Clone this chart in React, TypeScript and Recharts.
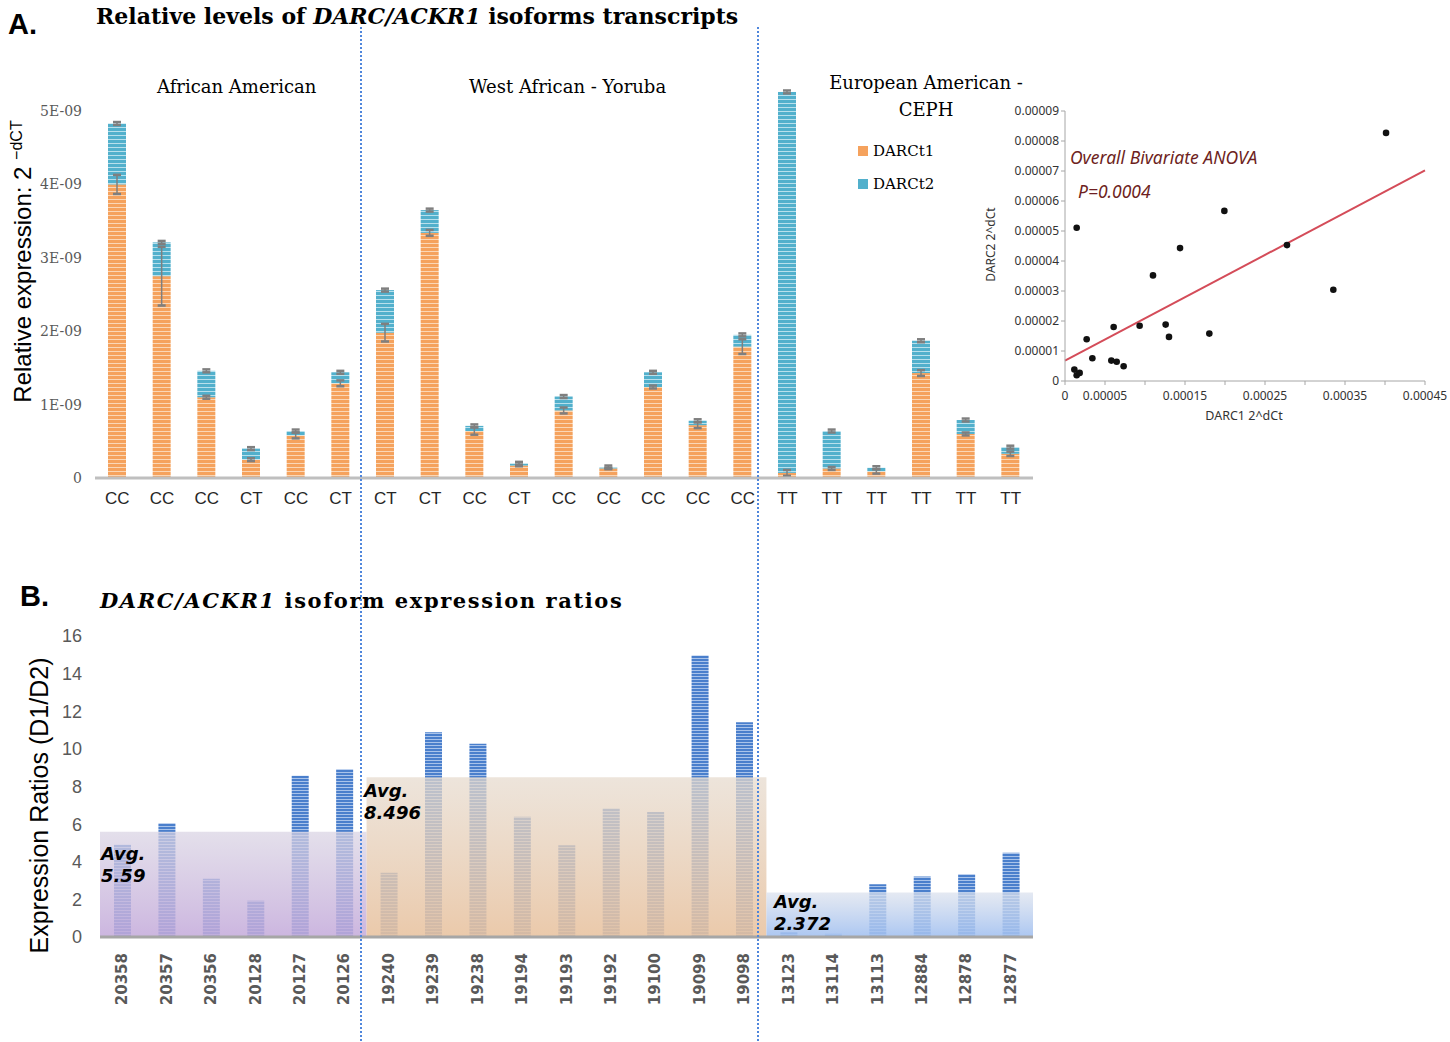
import React from "react";
import {
  Bar,
  BarChart,
  ReferenceArea,
  ReferenceLine,
  Scatter,
  ScatterChart,
  XAxis,
  YAxis,
} from "recharts";

// panel A: relative levels (2^-dCT) per sample, stacked DARCt1 + DARCt2
const genotypes = ["CC", "CC", "CC", "CT", "CC", "CT", "CT", "CT", "CC", "CT", "CC", "CC", "CC", "CC", "CC", "TT", "TT", "TT", "TT", "TT", "TT"];
const darct1 = [4.0e-9, 2.75e-9, 1.1e-9, 0.25e-9, 0.58e-9, 1.29e-9, 1.98e-9, 3.34e-9, 0.64e-9, 0.17e-9, 0.92e-9, 0.13e-9, 1.24e-9, 0.72e-9, 1.79e-9, 0.07e-9, 0.13e-9, 0.09e-9, 1.43e-9, 0.6e-9, 0.33e-9];
const darct2 = [0.83e-9, 0.46e-9, 0.36e-9, 0.15e-9, 0.06e-9, 0.15e-9, 0.58e-9, 0.31e-9, 0.07e-9, 0.03e-9, 0.19e-9, 0.02e-9, 0.2e-9, 0.06e-9, 0.16e-9, 5.19e-9, 0.51e-9, 0.05e-9, 0.44e-9, 0.19e-9, 0.09e-9];
const darct1Err = [0.13e-9, 0.4e-9, 0.02e-9, 0.02e-9, 0.04e-9, 0.04e-9, 0.12e-9, 0.04e-9, 0.05e-9, 0.01e-9, 0.04e-9, 0.01e-9, 0.02e-9, 0.04e-9, 0.1e-9, 0.04e-9, 0.02e-9, 0.03e-9, 0.04e-9, 0.02e-9, 0.03e-9];
const darct2Err = [0.02e-9, 0.02e-9, 0.02e-9, 0.02e-9, 0.02e-9, 0.02e-9, 0.02e-9, 0.02e-9, 0.02e-9, 0.02e-9, 0.02e-9, 0.02e-9, 0.02e-9, 0.02e-9, 0.02e-9, 0.02e-9, 0.02e-9, 0.02e-9, 0.02e-9, 0.02e-9, 0.02e-9];
const levelTicks = [0, 1e-9, 2e-9, 3e-9, 4e-9, 5e-9];

// inset: DARC1 vs DARC2 2^dCt
const darc1dCt = [0.0000117, 0.0000146, 0.0000183, 0.0000146, 0.0000271, 0.0000342, 0.0000579, 0.0000608, 0.0000646, 0.0000733, 0.0000933, 0.00011, 0.0001258, 0.00013, 0.0001438, 0.0001804, 0.0001992, 0.0002775, 0.0003354, 0.0004013];
const darc2dCt = [0.0000038, 0.0000019, 0.0000027, 0.0000511, 0.0000139, 0.0000076, 0.0000068, 0.000018, 0.0000064, 0.0000049, 0.0000184, 0.0000352, 0.0000188, 0.0000147, 0.0000443, 0.0000158, 0.0000567, 0.0000453, 0.0000304, 0.0000827];
const fitLine = [
  { x: 0, y: 0.0000068 },
  { x: 0.00045, y: 0.0000702 },
];
const insetXTicks = [0, 0.00005, 0.0001, 0.00015, 0.0002, 0.00025, 0.0003, 0.00035, 0.0004, 0.00045];
const insetXLabelled = [0, 0.00005, 0.00015, 0.00025, 0.00035, 0.00045];
const insetYTicks = [0, 0.00001, 0.00002, 0.00003, 0.00004, 0.00005, 0.00006, 0.00007, 0.00008, 0.00009];

// panel B: D1/D2 ratios
const sampleIds = ["20358", "20357", "20356", "20128", "20127", "20126", "19240", "19239", "19238", "19194", "19193", "19192", "19100", "19099", "19098", "13123", "13114", "13113", "12884", "12878", "12877"];
const ratios = [4.9, 6.05, 3.1, 1.93, 8.57, 8.92, 3.42, 10.88, 10.27, 6.39, 4.88, 6.83, 6.64, 14.97, 11.42, 0.25, 0.17, 2.8, 3.22, 3.33, 4.48];
const groupFirst = ["20358", "19240", "13123"];
const groupLast = ["20126", "19098", "12877"];
const groupAvg = [5.59, 8.496, 2.372];
const ratioTicks = [0, 2, 4, 6, 8, 10, 12, 14, 16];

const SERIF = "'DejaVu Serif', serif";
const SANS = "'Liberation Sans', Arial, sans-serif";
const UI = "'Noto Sans', sans-serif";

function PlainSeg(props: any) {
  const { x, y, width, height, fill } = props;
  if (!(height > 0)) return null;
  return <rect x={x} y={y} width={width} height={height} fill={fill} />;
}

// top segment: also draws both error bars so they sit above the stack
function TopSeg(props: any) {
  const { x, y, width, height, fill, payload } = props;
  if (!(height > 0)) return null;
  const k = height / payload.t2;
  const cx = x + width / 2;
  const whisker = (yy: number, e: number, key: string) => (
    <g key={key} stroke="#7f7f7f">
      <line x1={cx} x2={cx} y1={yy - e} y2={yy + e} strokeWidth={1.5} />
      <line x1={cx - 4} x2={cx + 4} y1={yy - e} y2={yy - e} strokeWidth={2.5} />
      <line x1={cx - 4} x2={cx + 4} y1={yy + e} y2={yy + e} strokeWidth={2.5} />
    </g>
  );
  return (
    <g>
      <rect x={x} y={y} width={width} height={height} fill={fill} />
      {whisker(y + height, payload.e1 * k, "a")}
      {whisker(y, payload.e2 * k, "b")}
    </g>
  );
}

function IdTick(props: any) {
  const { x, y, payload } = props;
  const yy = y + 8;
  return (
    <text
      x={x}
      y={yy}
      transform={`rotate(-90 ${x} ${yy})`}
      textAnchor="end"
      dominantBaseline="central"
      fill="#595959"
      fontFamily="'DejaVu Sans', sans-serif"
      fontWeight="bold"
      fontSize={15}
    >
      {payload.value}
    </text>
  );
}

const abs = (left: number, top: number, extra: React.CSSProperties = {}): React.CSSProperties => ({
  position: "absolute",
  left,
  top,
  whiteSpace: "nowrap",
  ...extra,
});

const dotted: React.CSSProperties = {
  width: 1.5,
  height: 1015,
  background: "repeating-linear-gradient(to bottom, #4f86dc 0px, #4f86dc 2px, transparent 2px, transparent 4px)",
};

export default function App() {
  const levelRows = genotypes.map((g, i) => ({
    g,
    t1: darct1[i],
    t2: darct2[i],
    e1: darct1Err[i],
    e2: darct2Err[i],
  }));
  const ratioRows = sampleIds.map((id, i) => ({ id, r: ratios[i] }));
  const pts = darc1dCt.map((x, i) => ({ x, y: darc2dCt[i] }));
  const boxFills = ["url(#boxPurple)", "url(#boxPeach)", "url(#boxBlue)"];

  return (
    <div style={{ position: "absolute", left: 0, top: 0, width: 1450, height: 1042, background: "#fff", overflow: "hidden" }}>
      {/* panel A headings */}
      <div style={abs(8, 8, { fontFamily: SANS, fontWeight: "bold", fontSize: 29 })}>A.</div>
      <div style={abs(96, 3, { fontFamily: SERIF, fontWeight: "bold", fontSize: 22 })}>
        Relative levels of <i>DARC/ACKR1</i> isoforms transcripts
      </div>
      <div style={abs(157, 76, { fontFamily: SERIF, fontSize: 18 })}>African American</div>
      <div style={abs(469, 76, { fontFamily: SERIF, fontSize: 18 })}>West African - Yoruba</div>
      <div style={abs(826, 69, { fontFamily: SERIF, fontSize: 18, textAlign: "center", lineHeight: "27px", width: 200 })}>
        European American -<br />CEPH
      </div>
      <div
        style={abs(-138, 247, {
          fontFamily: SANS,
          fontSize: 24,
          width: 320,
          textAlign: "center",
          transform: "rotate(-90deg)",
        })}
      >
        Relative expression: 2 <sup style={{ fontSize: 16 }}>−dCT</sup>
      </div>
      <div style={abs(858, 142, { fontFamily: SERIF, fontSize: 15, lineHeight: "18px" })}>
        <span style={{ display: "inline-block", width: 10, height: 10, background: "#f5a25d", marginRight: 5 }} />
        DARCt1
      </div>
      <div style={abs(858, 175, { fontFamily: SERIF, fontSize: 15, lineHeight: "18px" })}>
        <span style={{ display: "inline-block", width: 10, height: 10, background: "#52b0cc", marginRight: 5 }} />
        DARCt2
      </div>

      <div style={abs(0, 0)}>
        <BarChart width={1040} height={520} data={levelRows} margin={{ top: 89, right: 7, bottom: 12, left: 0 }}>
          <defs>
            <pattern id="stripeO" width="6" height="4" patternUnits="userSpaceOnUse">
              <rect width="6" height="4" fill="#f5a25d" />
              <rect y="3" width="6" height="1" fill="#fbd7b6" />
            </pattern>
            <pattern id="stripeB" width="6" height="4" patternUnits="userSpaceOnUse">
              <rect width="6" height="4" fill="#52b0cc" />
              <rect y="3" width="6" height="1" fill="#b8e0ec" />
            </pattern>
          </defs>
          <XAxis
            dataKey="g"
            axisLine={{ stroke: "#bfbfbf", strokeWidth: 3 }}
            tickLine={false}
            height={30}
            tickMargin={8}
            tick={{ fill: "#262626", fontSize: 17, fontFamily: SANS }}
          />
          <YAxis
            domain={[0, 5.3e-9]}
            ticks={levelTicks}
            width={95}
            axisLine={false}
            tickLine={false}
            tickMargin={7}
            tickFormatter={(v: number) => (v === 0 ? "0" : `${Math.round(v * 1e9)}E-09`)}
            tick={{ fill: "#595959", fontSize: 14, fontFamily: SERIF }}
          />
          <Bar dataKey="t1" stackId="s" barSize={18} fill="url(#stripeO)" shape={PlainSeg} isAnimationActive={false} />
          <Bar dataKey="t2" stackId="s" barSize={18} fill="url(#stripeB)" shape={TopSeg} isAnimationActive={false} />
        </BarChart>
      </div>

      {/* inset scatter */}
      <div style={abs(985, 95)}>
        <ScatterChart width={465} height={335} margin={{ top: 16, right: 25, bottom: 9, left: 0 }}>
          <XAxis
            type="number"
            dataKey="x"
            domain={[0, 0.00045]}
            ticks={insetXTicks}
            allowDataOverflow
            height={40}
            axisLine={{ stroke: "#a6a6a6" }}
            tickLine={{ stroke: "#a6a6a6" }}
            tickSize={4}
            tickMargin={6}
            tickFormatter={(v: number) =>
              insetXLabelled.some((t) => Math.abs(t - v) < 1e-9) ? (v === 0 ? "0" : v.toFixed(5)) : ""
            }
            tick={{ fill: "#333", fontSize: 12, fontFamily: UI }}
          />
          <XAxis xAxisId="top" orientation="top" type="number" domain={[0, 0.00045]} height={0} tick={false} tickLine={false} axisLine={{ stroke: "#a6a6a6" }} />
          <YAxis
            type="number"
            dataKey="y"
            domain={[0, 0.00009]}
            ticks={insetYTicks}
            allowDataOverflow
            width={80}
            axisLine={{ stroke: "#a6a6a6" }}
            tickLine={{ stroke: "#a6a6a6" }}
            tickSize={4}
            tickFormatter={(v: number) => (v === 0 ? "0" : v.toFixed(5))}
            tick={{ fill: "#333", fontSize: 12, fontFamily: UI }}
          />
          <YAxis yAxisId="right" orientation="right" type="number" domain={[0, 0.00009]} width={0} tick={false} tickLine={false} axisLine={{ stroke: "#a6a6a6" }} />
          <ReferenceLine segment={fitLine} stroke="#d44c59" strokeWidth={2} ifOverflow="visible" />
          <Scatter
            data={pts}
            isAnimationActive={false}
            shape={(p: any) => <circle cx={p.cx} cy={p.cy} r={3.3} fill="#111" />}
          />
        </ScatterChart>
      </div>
      <div style={abs(1070, 145, { fontFamily: UI, fontStyle: "italic", fontSize: 17.5, color: "#6e1f22" })}>
        Overall Bivariate ANOVA
      </div>
      <div style={abs(1078, 179, { fontFamily: UI, fontStyle: "italic", fontSize: 17.5, color: "#6e1f22" })}>
        P=0.0004
      </div>
      <div style={abs(940, 236, { fontFamily: UI, fontSize: 12, color: "#333", width: 100, textAlign: "center", transform: "rotate(-90deg)" })}>
        DARC2 2^dCt
      </div>
      <div style={abs(1194, 407, { fontFamily: UI, fontSize: 12.5, color: "#333", width: 100, textAlign: "center" })}>
        DARC1 2^dCt
      </div>

      {/* panel B */}
      <div style={abs(20, 580, { fontFamily: SANS, fontWeight: "bold", fontSize: 29 })}>B.</div>
      <div style={abs(100, 588, { fontFamily: SERIF, fontWeight: "bold", fontSize: 21, letterSpacing: 1.6 })}>
        <i>DARC/ACKR1</i> isoform expression ratios
      </div>
      <div
        style={abs(-121, 791, {
          fontFamily: SANS,
          fontSize: 25,
          width: 320,
          textAlign: "center",
          transform: "rotate(-90deg)",
        })}
      >
        Expression Ratios (D1/D2)
      </div>

      <div style={abs(0, 620)}>
        <BarChart width={1040} height={422} data={ratioRows} margin={{ top: 16, right: 7, bottom: 5, left: 0 }}>
          <defs>
            <pattern id="stripeR" width="6" height="3" patternUnits="userSpaceOnUse">
              <rect width="6" height="3" fill="#4a7fcc" />
              <rect y="2" width="6" height="1" fill="#a9c3ea" />
            </pattern>
            <linearGradient id="boxPurple" x1="0" y1="0" x2="0" y2="1">
              <stop offset="0" stopColor="#d9d3e3" stopOpacity={0.72} />
              <stop offset="1" stopColor="#c3a9da" stopOpacity={0.85} />
            </linearGradient>
            <linearGradient id="boxPeach" x1="0" y1="0" x2="0" y2="1">
              <stop offset="0" stopColor="#e6dacd" stopOpacity={0.72} />
              <stop offset="1" stopColor="#e8c29f" stopOpacity={0.88} />
            </linearGradient>
            <linearGradient id="boxBlue" x1="0" y1="0" x2="0" y2="1">
              <stop offset="0" stopColor="#dce2ee" stopOpacity={0.75} />
              <stop offset="1" stopColor="#a0bff0" stopOpacity={0.88} />
            </linearGradient>
          </defs>
          <XAxis
            dataKey="id"
            axisLine={{ stroke: "#a6a6a6", strokeWidth: 3 }}
            tickLine={false}
            height={100}
            interval={0}
            tick={<IdTick />}
          />
          <YAxis
            domain={[0, 16]}
            ticks={ratioTicks}
            width={100}
            axisLine={false}
            tickLine={false}
            tickMargin={12}
            tick={{ fill: "#595959", fontSize: 18, fontFamily: SANS }}
          />
          <Bar dataKey="r" barSize={17} fill="url(#stripeR)" isAnimationActive={false} />
          {groupAvg.map((avg, i) => (
            <ReferenceArea
              key={i}
              x1={groupFirst[i]}
              x2={groupLast[i]}
              y1={0}
              y2={avg}
              fill={boxFills[i]}
              fillOpacity={1}
              strokeOpacity={0}
              zIndex={350}
            />
          ))}
        </BarChart>
      </div>
      <div style={abs(101, 843, { fontFamily: "'DejaVu Sans', sans-serif", fontWeight: "bold", fontStyle: "italic", fontSize: 18, lineHeight: "22px" })}>
        Avg.<br />5.59
      </div>
      <div style={abs(364, 780, { fontFamily: "'DejaVu Sans', sans-serif", fontWeight: "bold", fontStyle: "italic", fontSize: 18, lineHeight: "22px" })}>
        Avg.<br />8.496
      </div>
      <div style={abs(774, 891, { fontFamily: "'DejaVu Sans', sans-serif", fontWeight: "bold", fontStyle: "italic", fontSize: 18, lineHeight: "22px" })}>
        Avg.<br />2.372
      </div>

      {/* dotted population separators */}
      <div style={abs(360, 27, dotted)} />
      <div style={abs(757, 27, dotted)} />
    </div>
  );
}
